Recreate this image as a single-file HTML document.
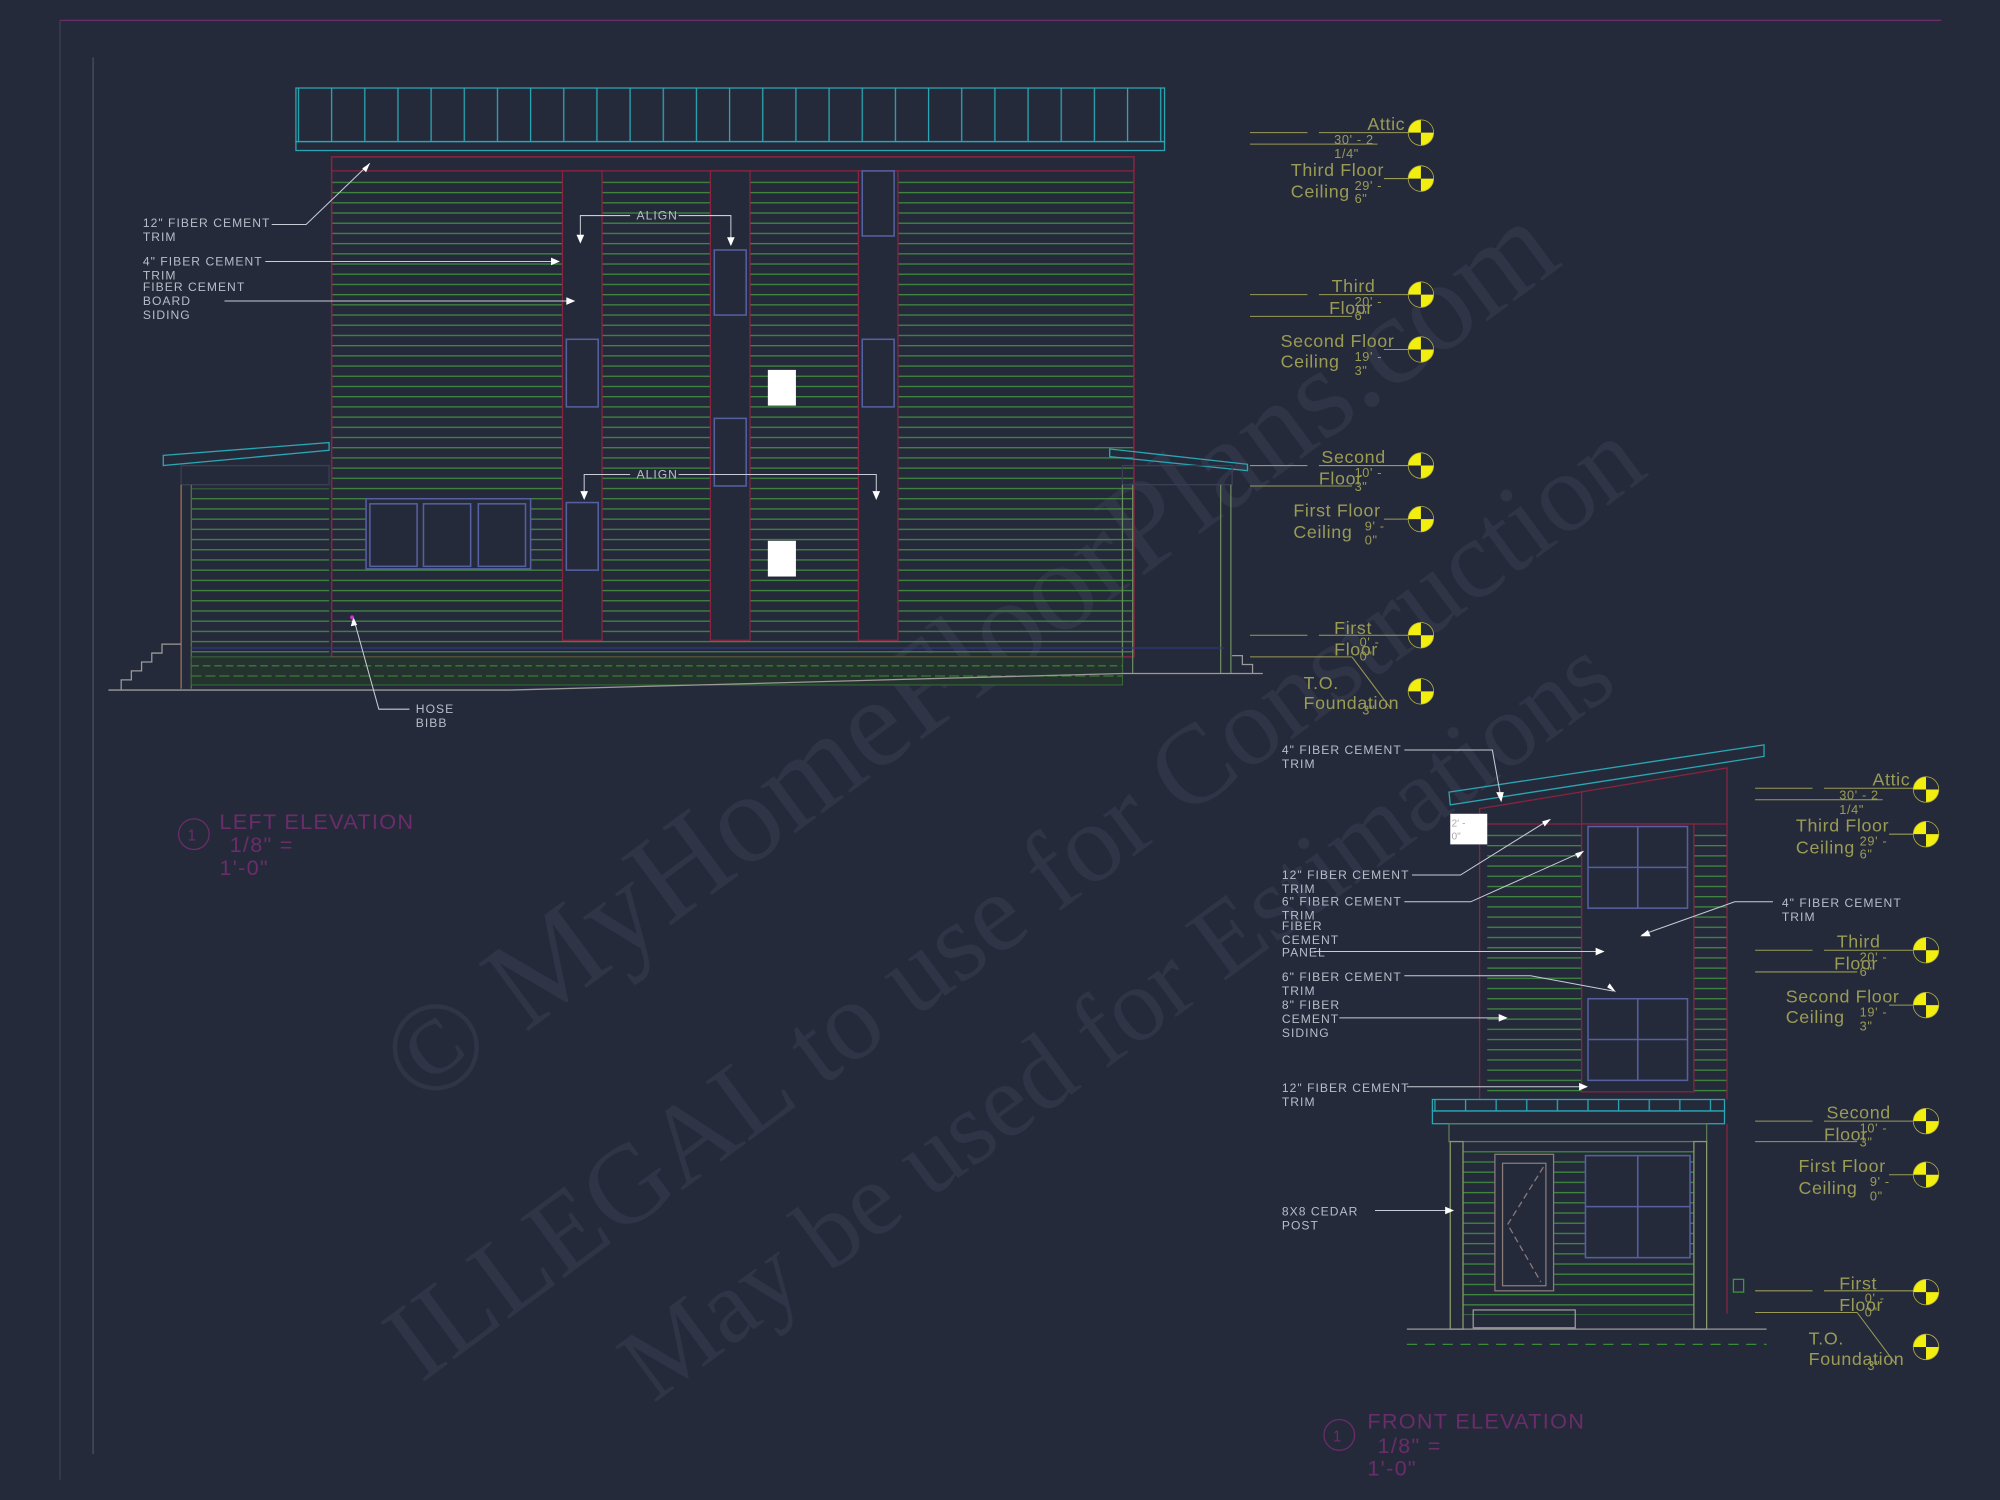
<!DOCTYPE html>
<html><head><meta charset="utf-8"><style>
html,body{margin:0;padding:0;background:#252a3b;}
svg{display:block}
text{font-family:"Liberation Sans",sans-serif;}
text.wm{font-family:"Liberation Serif",serif;}
</style></head><body>
<svg width="2000" height="1500" viewBox="0 0 1568 1176" preserveAspectRatio="none" xmlns="http://www.w3.org/2000/svg">
<defs>
<pattern id="sid" x="0" y="0" width="10" height="8" patternUnits="userSpaceOnUse"><line x1="0" y1="7" x2="10" y2="7" stroke="#3f8a3e" stroke-width="1"/></pattern>
<pattern id="roof" x="232" y="0" width="26" height="10" patternUnits="userSpaceOnUse"><line x1="2" y1="0" x2="2" y2="10" stroke="#2aa7b4" stroke-width="1"/></pattern>
<pattern id="roof2" x="1123" y="0" width="24" height="10" patternUnits="userSpaceOnUse"><line x1="2" y1="0" x2="2" y2="10" stroke="#2aa7b4" stroke-width="1"/></pattern>
</defs>
<rect width="1568" height="1176" fill="#252a3b"/>
<line x1="47" y1="16" x2="1522" y2="16" stroke="#6a2f6a" stroke-width="1"/>
<line x1="47" y1="16" x2="47" y2="1160" stroke="#3a3f55" stroke-width="1"/>
<line x1="73" y1="45" x2="73" y2="1140" stroke="#4a4f65" stroke-width="1"/>

<!-- watermark -->
<g fill="#2f3447">
<text class="wm" transform="translate(765,520) rotate(-36.5)" font-size="100" text-anchor="middle" dominant-baseline="middle">© MyHomeFloorPlans.com</text>
<text class="wm" transform="translate(800,712) rotate(-36.5)" font-size="88" text-anchor="middle" dominant-baseline="middle">ILLEGAL to use for Construction</text>
<text class="wm" transform="translate(880,805) rotate(-36.5)" font-size="82" text-anchor="middle" dominant-baseline="middle">May be used for Estimations</text>
</g>

<!-- LEFT ELEVATION -->
<rect x="232" y="69" width="681" height="42" fill="url(#roof)" stroke="#2aa7b4" stroke-width="1"/>
<rect x="232" y="111" width="681" height="7" fill="none" stroke="#2aa7b4" stroke-width="1"/>
<rect x="260" y="140" width="629" height="373" fill="url(#sid)"/>
<rect x="260" y="123" width="629" height="392" fill="none" stroke="#8a2340" stroke-width="1.2"/>
<line x1="260" y1="134" x2="889" y2="134" stroke="#8a2340"/>
<g fill="#252a3b" stroke="#8a2340">
<rect x="441" y="134" width="31" height="368"/>
<rect x="557" y="134" width="31" height="368"/>
<rect x="673" y="134" width="31" height="368"/>
</g>
<g fill="#252a3b" stroke="#5560a0" stroke-width="1.2">
<rect x="444" y="266" width="25" height="53"/><rect x="444" y="394" width="25" height="53"/>
<rect x="560" y="196" width="25" height="51"/><rect x="560" y="328" width="25" height="53"/>
<rect x="676" y="134" width="25" height="51"/><rect x="676" y="266" width="25" height="53"/>
<rect x="287" y="391" width="129" height="55"/>
<rect x="290" y="395" width="37" height="49"/><rect x="332" y="395" width="37" height="49"/><rect x="375" y="395" width="37" height="49"/>
</g>
<rect x="602" y="290" width="22" height="28" fill="#fff"/>
<rect x="602" y="424" width="22" height="28" fill="#fff"/>
<polygon points="128,357 258,347 258,353 128,365" fill="none" stroke="#2aa7b4"/>
<rect x="142" y="365" width="116" height="15" fill="none" stroke="#3a3f55"/>
<rect x="150" y="383" width="108" height="130" fill="url(#sid)"/>
<line x1="142" y1="380" x2="142" y2="540" stroke="#a07050"/>
<line x1="150" y1="380" x2="150" y2="540" stroke="#5a7040"/>
<polygon points="870,352 978,364 978,369 870,358" fill="none" stroke="#2aa7b4"/>
<rect x="880" y="365" width="86" height="15" fill="none" stroke="#3a3f55"/>
<line x1="880" y1="380" x2="880" y2="528" stroke="#6a8a60"/>
<line x1="888" y1="380" x2="888" y2="528" stroke="#6a8a60"/>
<line x1="957" y1="380" x2="957" y2="528" stroke="#6a8a60"/>
<line x1="965" y1="380" x2="965" y2="528" stroke="#6a8a60"/>
<rect x="150" y="515" width="730" height="22" fill="#24332e" stroke="#3a6a3a" stroke-width="0.8"/>
<line x1="150" y1="522" x2="880" y2="522" stroke="#3a7a3a" stroke-dasharray="6 3"/>
<line x1="150" y1="530" x2="880" y2="530" stroke="#3a7a3a" stroke-dasharray="8 3"/>
<line x1="150" y1="508" x2="960" y2="508" stroke="#2d3880"/>
<line x1="85" y1="541" x2="400" y2="541" stroke="#9a9a9a"/>
<line x1="400" y1="541" x2="880" y2="528" stroke="#9a9a9a"/>
<line x1="880" y1="528" x2="990" y2="528" stroke="#9a9a9a"/>
<polyline points="95,541 95,533 103,533 103,526 111,526 111,519 119,519 119,512 127,512 127,505 142,505" fill="none" stroke="#9a9a9a"/>
<polyline points="966,514 974,514 974,521 982,521 982,528" fill="none" stroke="#9a9a9a"/>
<g fill="#b8bcc8" font-size="9.5" letter-spacing="0.8">
<text x="112" y="178">12" FIBER CEMENT</text><text x="112" y="189">TRIM</text>
<text x="112" y="208">4" FIBER CEMENT</text><text x="112" y="219">TRIM</text>
<text x="112" y="228">FIBER CEMENT</text><text x="112" y="239">BOARD</text><text x="112" y="250">SIDING</text>
<text x="326" y="559">HOSE</text><text x="326" y="570">BIBB</text>
<text x="499" y="172">ALIGN</text><text x="499" y="375">ALIGN</text>
</g>
<g stroke="#c8ccd6" fill="none" stroke-width="0.8">
<polyline points="213,176 240,176 290,128"/>
<line x1="208" y1="205" x2="438" y2="205"/>
<line x1="176" y1="236" x2="450" y2="236"/>
<polyline points="321,556 297,556 277,484"/>
<polyline points="494,169 455,169 455,189"/>
<polyline points="532,169 573,169 573,191"/>
<polyline points="494,372 458,372 458,390"/>
<polyline points="532,372 687,372 687,390"/>
</g>
<g fill="#fff"><polygon points="290,128 284,132 287,135"/><polygon points="439,205 432,202 432,208"/><polygon points="451,236 444,233 444,239"/>
<polygon points="455,191 452,184 458,184"/><polygon points="573,193 570,186 576,186"/><polygon points="458,392 455,385 461,385"/><polygon points="687,392 684,385 690,385"/><polygon points="277,484 275,491 280,490"/></g>
<circle cx="276" cy="484" r="1.5" fill="#d030d0"/>
<circle cx="152" cy="654" r="12" fill="none" stroke="#6a2c6a"/>
<text x="147" y="659" fill="#6a2c6a" font-size="12">1</text>
<g fill="#6a2c6a" font-size="17" letter-spacing="1"><text x="172" y="650">LEFT ELEVATION</text><text x="180" y="668">1/8" =</text><text x="172" y="686">1'-0"</text></g>

<g id="lv" font-size="14" fill="#9a9b55" letter-spacing="0.5">
<g stroke="#9a9b55" stroke-width="0.8">
<line x1="980" y1="104" x2="1025" y2="104"/><line x1="1034" y1="104" x2="1114" y2="104"/><line x1="980" y1="113" x2="1080" y2="113"/>
<line x1="1085" y1="140" x2="1114" y2="140"/>
<line x1="980" y1="231" x2="1025" y2="231"/><line x1="1034" y1="231" x2="1114" y2="231"/><line x1="980" y1="248" x2="1060" y2="248"/>
<line x1="1085" y1="274" x2="1114" y2="274"/>
<line x1="980" y1="365" x2="1025" y2="365"/><line x1="1034" y1="365" x2="1114" y2="365"/><line x1="980" y1="381" x2="1060" y2="381"/>
<line x1="1085" y1="407" x2="1114" y2="407"/>
<line x1="980" y1="498" x2="1025" y2="498"/><line x1="1034" y1="498" x2="1114" y2="498"/><line x1="980" y1="515" x2="1060" y2="515"/><line x1="1060" y1="515" x2="1090" y2="555"/>
</g>
<text x="1072" y="102">Attic</text><text x="1046" y="113" font-size="10">30' - 2</text><text x="1046" y="124" font-size="10">1/4"</text>
<text x="1012" y="138">Third Floor</text><text x="1012" y="155">Ceiling</text><text x="1062" y="149" font-size="10">29' -</text><text x="1062" y="159" font-size="10">6"</text>
<text x="1044" y="229">Third</text><text x="1042" y="246">Floor</text><text x="1062" y="240" font-size="10">20' -</text><text x="1062" y="251" font-size="10">6"</text>
<text x="1004" y="272">Second Floor</text><text x="1004" y="288">Ceiling</text><text x="1062" y="283" font-size="10">19' -</text><text x="1062" y="294" font-size="10">3"</text>
<text x="1036" y="363">Second</text><text x="1034" y="380">Floor</text><text x="1062" y="374" font-size="10">10' -</text><text x="1062" y="385" font-size="10">3"</text>
<text x="1014" y="405">First Floor</text><text x="1014" y="422">Ceiling</text><text x="1070" y="416" font-size="10">9' -</text><text x="1070" y="427" font-size="10">0"</text>
<text x="1046" y="497">First</text><text x="1046" y="514">Floor</text><text x="1066" y="507" font-size="10">0' -</text><text x="1066" y="518" font-size="10">0"</text>
<text x="1022" y="540">T.O.</text><text x="1022" y="556">Foundation</text><text x="1068" y="560" font-size="10">3"</text>
</g>
<defs>
<g id="mk"><circle r="10" fill="#f2ee10"/><path d="M0,0 L0,-10 A10,10 0 0,1 10,0 Z M0,0 L0,10 A10,10 0 0,1 -10,0 Z" fill="#252a3b"/><circle r="10" fill="none" stroke="#b8b540" stroke-width="0.6"/></g>
</defs>
<use href="#mk" x="1114" y="104"/><use href="#mk" x="1114" y="140"/><use href="#mk" x="1114" y="231"/><use href="#mk" x="1114" y="274"/>
<use href="#mk" x="1114" y="365"/><use href="#mk" x="1114" y="407"/><use href="#mk" x="1114" y="498"/><use href="#mk" x="1114" y="542"/>
<g transform="translate(396,514)"><use href="#lv"/></g>
<use href="#mk" x="1510" y="619"/><use href="#mk" x="1510" y="654"/><use href="#mk" x="1510" y="745"/><use href="#mk" x="1510" y="788"/>
<use href="#mk" x="1510" y="879"/><use href="#mk" x="1510" y="921"/><use href="#mk" x="1510" y="1013"/><use href="#mk" x="1510" y="1056"/>

<!-- FRONT ELEVATION -->
<polygon points="1136,621 1383,584 1383,593 1137,631" fill="none" stroke="#2aa7b4"/>
<rect x="1166" y="650" width="188" height="212" fill="url(#sid)"/>
<polyline points="1160,862 1160,634 1354,602 1354,862" fill="none" stroke="#8a2340"/>
<line x1="1160" y1="646" x2="1354" y2="646" stroke="#8a2340"/>
<line x1="1240" y1="620" x2="1240" y2="646" stroke="#8a2340"/>
<rect x="1240" y="646" width="45" height="210" fill="#252a3b" stroke="#8a2340"/>
<rect x="1240" y="646" width="88" height="210" fill="#252a3b" stroke="#8a2340"/>
<g fill="none" stroke="#5560a0" stroke-width="1.2">
<rect x="1245" y="648" width="78" height="64"/><line x1="1284" y1="648" x2="1284" y2="712"/><line x1="1245" y1="680" x2="1323" y2="680"/>
<rect x="1245" y="783" width="78" height="64"/><line x1="1284" y1="783" x2="1284" y2="847"/><line x1="1245" y1="815" x2="1323" y2="815"/>
</g>
<rect x="1137" y="638" width="29" height="24" fill="#fff"/>
<text x="1138" y="648" font-size="8" fill="#aaa">2' -</text><text x="1138" y="658" font-size="8" fill="#aaa">0"</text>
<rect x="1123" y="862" width="229" height="9" fill="url(#roof2)" stroke="#2aa7b4"/>
<rect x="1123" y="871" width="229" height="10" fill="none" stroke="#2aa7b4"/>
<rect x="1136" y="881" width="202" height="14" fill="none" stroke="#5a7a5a"/>
<rect x="1147" y="897" width="181" height="134" fill="url(#sid)"/>
<rect x="1137" y="895" width="10" height="147" fill="#252a3b" stroke="#8a9a6a"/>
<rect x="1328" y="895" width="10" height="147" fill="#252a3b" stroke="#8a9a6a"/>
<line x1="1354" y1="881" x2="1354" y2="1030" stroke="#8a2340"/>
<rect x="1172" y="905" width="46" height="107" fill="#252a3b" stroke="#8a7a7a"/>
<rect x="1178" y="912" width="34" height="96" fill="none" stroke="#8a7a7a"/>
<polyline points="1210,915 1182,960 1208,1005" fill="none" stroke="#8a7a7a" stroke-dasharray="5 3"/>
<g fill="#252a3b" stroke="#5560a0" stroke-width="1.2">
<rect x="1243" y="906" width="82" height="80"/><line x1="1284" y1="906" x2="1284" y2="986"/><line x1="1243" y1="946" x2="1325" y2="946"/>
</g>
<rect x="1155" y="1027" width="80" height="14" fill="none" stroke="#9a9a9a"/>
<line x1="1103" y1="1042" x2="1385" y2="1042" stroke="#9a9a9a"/>
<line x1="1103" y1="1054" x2="1385" y2="1054" stroke="#3a8a3a" stroke-dasharray="8 6"/>
<rect x="1359" y="1003" width="8" height="10" fill="none" stroke="#3a9a3a"/>
<g fill="#b8bcc8" font-size="9.5" letter-spacing="0.8">
<text x="1005" y="591">4" FIBER CEMENT</text><text x="1005" y="602">TRIM</text>
<text x="1005" y="689">12" FIBER CEMENT</text><text x="1005" y="700">TRIM</text>
<text x="1005" y="710">6" FIBER CEMENT</text><text x="1005" y="721">TRIM</text>
<text x="1005" y="729">FIBER</text><text x="1005" y="740">CEMENT</text><text x="1005" y="750">PANEL</text>
<text x="1005" y="769">6" FIBER CEMENT</text><text x="1005" y="780">TRIM</text>
<text x="1005" y="791">8" FIBER</text><text x="1005" y="802">CEMENT</text><text x="1005" y="813">SIDING</text>
<text x="1005" y="856">12" FIBER CEMENT</text><text x="1005" y="867">TRIM</text>
<text x="1005" y="953">8X8 CEDAR</text><text x="1005" y="964">POST</text>
<text x="1397" y="711">4" FIBER CEMENT</text><text x="1397" y="722">TRIM</text>
</g>
<g stroke="#c8ccd6" fill="none" stroke-width="0.8">
<polyline points="1101,588 1170,588 1177,627"/>
<polyline points="1107,686 1145,686 1214,643"/>
<polyline points="1101,707 1153,707 1240,668"/>
<line x1="1030" y1="746" x2="1256" y2="746"/>
<polyline points="1101,765 1200,765 1265,777"/>
<line x1="1050" y1="798" x2="1180" y2="798"/>
<line x1="1103" y1="852" x2="1243" y2="852"/>
<line x1="1078" y1="949" x2="1138" y2="949"/>
<polyline points="1390,707 1360,707 1287,733"/>
</g>
<g fill="#fff"><polygon points="1177,629 1173,621 1179,621"/><polygon points="1216,642 1209,644 1211,648"/><polygon points="1242,667 1235,669 1237,673"/>
<polygon points="1258,746 1251,743 1251,749"/><polygon points="1267,778 1260,774 1262,771"/><polygon points="1182,798 1175,795 1175,801"/><polygon points="1245,852 1238,849 1238,855"/><polygon points="1140,949 1133,946 1133,952"/><polygon points="1286,734 1292,729 1294,734"/></g>
<circle cx="1050" cy="1125" r="12" fill="none" stroke="#6a2c6a"/>
<text x="1045" y="1130" fill="#6a2c6a" font-size="12">1</text>
<g fill="#6a2c6a" font-size="17" letter-spacing="1"><text x="1072" y="1120">FRONT ELEVATION</text><text x="1080" y="1139">1/8" =</text><text x="1072" y="1157">1'-0"</text></g>
</svg>
</body></html>
